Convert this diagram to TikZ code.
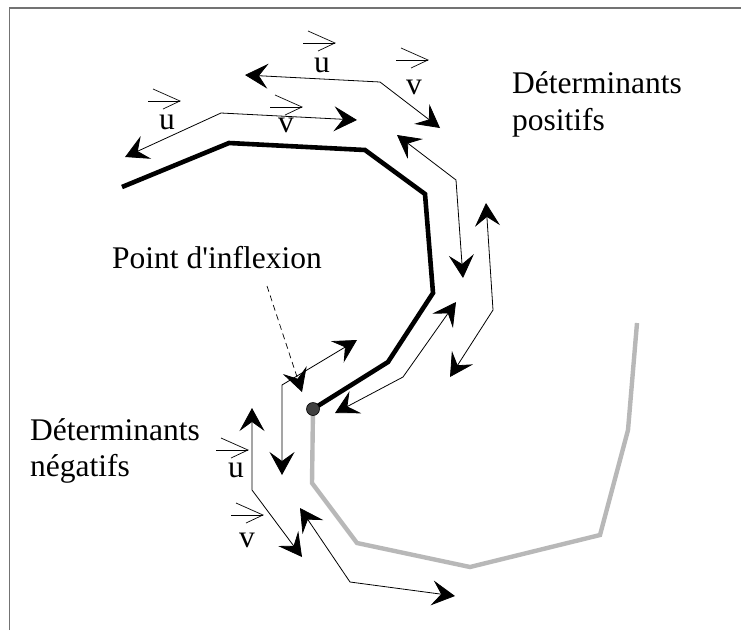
\documentclass[tikz,border=0pt]{standalone}
\usepackage{fontspec}
\setmainfont{Liberation Serif}
\usetikzlibrary{arrows.meta}
\newcommand\vecover[3]{%
  \draw[vecar] ([shift={(#2-32,#3)}]#1.center) -- ([shift={(#2,#3)}]#1.center);
  \draw[vecar] ([shift={(#2-27,#3-12)}]#1.center) -- ([shift={(#2,#3)}]#1.center) -- ([shift={(#2-17,#3+8)}]#1.center);}
\begin{document}
\begin{tikzpicture}[x=1pt,y=-1pt,
  tip/.tip={Stealth[length=23pt,width=25pt,inset=9pt]},
  dbl/.style={line width=0.8pt, tip-tip},
  lbl/.style={font=\fontsize{31.5}{37}\selectfont, inner sep=0pt},
  vecar/.style={line width=0.7pt},
  curveblack/.style={line width=4.6pt, line join=miter},
  curvegray/.style={line width=4.4pt, color=black!28, line join=miter},
  ]
\useasboundingbox (0,0) rectangle (741,630);
% frame
\draw[line width=1.5pt, black!55] (9.5,630) -- (9.5,8) -- (741,8);

% curve points
\coordinate (b1) at (122,187);
\coordinate (b2) at (229,143);
\coordinate (b3) at (365,150);
\coordinate (b4) at (425,194);
\coordinate (b5) at (433,293);
\coordinate (b6) at (388,362);
\coordinate (ip) at (313,409);
\coordinate (g1) at (312,483);
\coordinate (g2) at (357,543);
\coordinate (g3) at (470,567);
\coordinate (g4) at (600,535);
\coordinate (g5) at (628,430);
\coordinate (g6) at (637,323);

\draw[curvegray] (ip) -- (g1) -- (g2) -- (g3) -- (g4) -- (g5) -- (g6);
\draw[curveblack] (b1) -- (b2) -- (b3) -- (b4) -- (b5) -- (b6) -- (ip);
\node[circle, fill=black!75, draw=black, line width=0.6pt, minimum size=13pt, inner sep=0pt] (dot) at (ip) {};

% vector pairs
\coordinate (a1s) at (125,157); \coordinate (a1c) at (221,113); \coordinate (a1e) at (357,120);
\coordinate (a2s) at (245,75);  \coordinate (a2c) at (380,82);  \coordinate (a2e) at (440,128);
\coordinate (a3s) at (397,135); \coordinate (a3c) at (456,180); \coordinate (a3e) at (463,278);
\coordinate (a4s) at (486,203); \coordinate (a4c) at (493,310); \coordinate (a4e) at (450,377);
\coordinate (a5s) at (456,302); \coordinate (a5c) at (403,377); \coordinate (a5e) at (335,413);
\coordinate (a6s) at (357,340); \coordinate (a6c) at (282,385); \coordinate (a6e) at (282,475);
\coordinate (a7s) at (252,408); \coordinate (a7c) at (252,490); \coordinate (a7e) at (302,557);
\coordinate (a8s) at (300,508); \coordinate (a8c) at (350,582); \coordinate (a8e) at (455,596);

\draw[dbl] (a1s) -- (a1c) -- (a1e);
\draw[dbl] (a2s) -- (a2c) -- (a2e);
\draw[dbl] (a3s) -- (a3c) -- (a3e);
\draw[dbl] (a4s) -- (a4c) -- (a4e);
\draw[dbl] (a5s) -- (a5c) -- (a5e);
\draw[dbl] (a6s) -- (a6c) -- (a6e);
\draw[dbl] (a7s) -- (a7c) -- (a7e);
\draw[dbl] (a8s) -- (a8c) -- (a8e);

% vector labels
\node[lbl] (u1) at (167,122) {u}; \vecover{u1}{13}{-21}
\node[lbl] (v1) at (286,125) {v}; \vecover{v1}{16}{-18}
\node[lbl] (u2) at (322,65) {u};  \vecover{u2}{13}{-22}
\node[lbl] (v2) at (414,87) {v};  \vecover{v2}{14}{-27}
\node[lbl] (u3) at (236,470) {u}; \vecover{u3}{12}{-20}
\node[lbl] (v3) at (247,540) {v}; \vecover{v3}{16}{-25}

% texts
\node[lbl, anchor=base west] (dp1) at (512,93) {Déterminants};
\node[lbl, anchor=base west] (dp2) at (512,130) {positifs};
\node[lbl, anchor=base west] (dn1) at (30,440) {Déterminants};
\node[lbl, anchor=base west] (dn2) at (30,476) {négatifs};
\node[lbl, anchor=base west] (pi) at (112,268) {Point d\textquotesingle inflexion};

% dashed pointer
\coordinate (ds) at (267,286);
\coordinate (de) at (302,392);
\draw[line width=0.7pt, dash pattern=on 6pt off 4pt, -tip] (ds) -- (de);
\end{tikzpicture}
\end{document}
